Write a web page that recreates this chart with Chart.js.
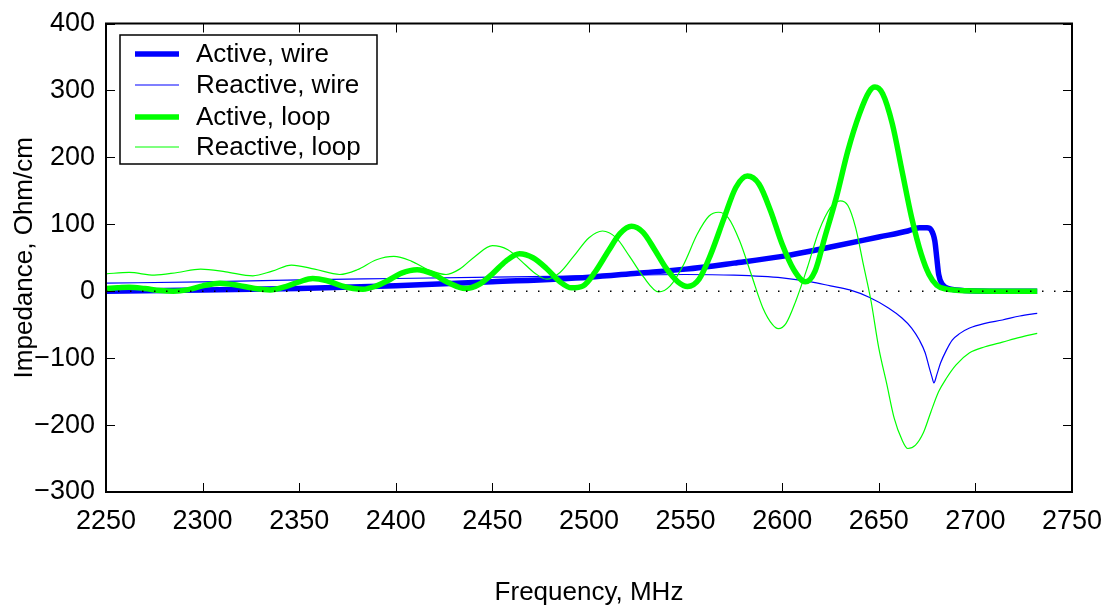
<!DOCTYPE html>
<html>
<head>
<meta charset="utf-8">
<script src="https://cdn.jsdelivr.net/npm/chart.js@4.4.0/dist/chart.umd.min.js"></script>
<style>
  html, body { margin: 0; padding: 0; background: #fff; }
</style>
</head>
<body>
<canvas id="impChart" width="1109" height="606"></canvas>
<script>
/* ===============================
   DATA
================================ */
const xTickValues = [2250, 2300, 2350, 2400, 2450, 2500, 2550, 2600, 2650, 2700, 2750];
const yTickValues = [-300, -200, -100, 0, 100, 200, 300, 400];

const seriesNames = ['Active, wire', 'Reactive, wire', 'Active, loop', 'Reactive, loop'];

const activeWireFreq = [2250, 2300, 2350, 2400, 2450, 2500, 2525, 2550, 2575, 2600, 2625, 2650, 2665, 2671, 2675, 2677, 2679, 2680, 2681, 2683, 2686, 2690, 2700, 2732];
const activeWireVals = [0, 2, 4, 8, 14, 21, 27, 33, 42, 52, 66, 81, 90, 95, 95, 92, 75, 50, 25, 10, 4, 2, 0.5, 0];

const reactiveWireFreq = [2250, 2300, 2350, 2400, 2450, 2500, 2550, 2575, 2600, 2615, 2625, 2635, 2645, 2655, 2662, 2667, 2671, 2674, 2676, 2677.5, 2678.5, 2680, 2682, 2685, 2688, 2692, 2697, 2705, 2714, 2723, 2732];
const reactiveWireVals = [12, 14, 17, 19, 21, 23, 25, 24, 20, 14, 8, 2, -9, -25, -40, -55, -73, -92, -113, -128, -137, -125, -107, -88, -73, -63, -55, -48, -43, -37, -33];

const activeLoopFreq = [2250, 2256, 2262, 2270, 2278, 2285, 2292, 2300, 2309, 2318, 2327, 2335, 2343, 2350, 2357, 2364, 2372, 2378, 2383, 2390, 2396, 2403, 2411, 2419, 2427, 2436, 2443, 2450, 2457, 2464, 2471, 2478, 2485, 2491, 2497, 2503, 2510, 2516, 2522, 2528, 2534, 2540, 2546, 2551, 2557, 2563, 2570, 2576, 2582, 2588, 2594, 2600, 2606, 2612, 2617, 2622, 2628, 2634, 2640, 2645, 2648, 2652, 2657, 2662, 2667, 2672, 2676, 2680, 2685, 2690, 2700, 2732];
const activeLoopVals = [4, 5, 6, 4, 1, 0, 2, 8, 12, 9, 4, 2, 7, 14, 19, 16, 8, 4, 3, 8, 16, 27, 32, 26, 13, 4, 10, 26, 45, 56, 50, 34, 14, 5, 8, 28, 60, 86, 97, 88, 62, 34, 14, 7, 18, 55, 110, 155, 172, 160, 120, 70, 32, 14, 30, 80, 140, 210, 265, 298, 305, 295, 250, 180, 110, 55, 25, 9, 3, 1.5, 0.5, 0];

const reactiveLoopFreq = [2250, 2262, 2275, 2287, 2299, 2312, 2326, 2336, 2346, 2358, 2371, 2380, 2390, 2399, 2408, 2417, 2426, 2433, 2441, 2450, 2458, 2465, 2472, 2478, 2485, 2492, 2500, 2507, 2514, 2521, 2528, 2536, 2542, 2549, 2556, 2562, 2567, 2572, 2578, 2584, 2590, 2595, 2598, 2602, 2607, 2613, 2619, 2625, 2630, 2634, 2638, 2642, 2646, 2650, 2654, 2658, 2662, 2665, 2669, 2673, 2677, 2681, 2685, 2690, 2697, 2705, 2714, 2723, 2732];
const reactiveLoopVals = [26, 28, 24, 28, 33, 29, 23, 30, 39, 33, 25, 32, 47, 52, 45, 32, 25, 33, 52, 68, 62, 45, 27, 18, 28, 52, 80, 90, 80, 52, 22, -1, 8, 40, 85, 112, 118, 110, 75, 25, -25, -50, -56, -48, -15, 35, 90, 125, 135, 128, 95, 40, -15, -85, -137, -190, -222, -235, -230, -212, -180, -150, -130, -110, -92, -83, -76, -69, -63];

const zeroLineFreq = [2250, 2750];
const zeroLineVals = [0, 0];

/* ===============================
   HELPERS
================================ */
const FONT = 'Liberation Sans, Arial, Helvetica, sans-serif';
const BLUE = '#0000ff';
const GREEN = '#00ff00';

function toPoints(freq, vals) {
  return freq.map((f, i) => ({ x: f, y: vals[i] }));
}

function minusSign(v) {
  return v < 0 ? '\u2212' + Math.abs(v) : String(v);
}

/* ===============================
   FRAME + INWARD TICKS + LEGEND
================================ */
const framePlugin = {
  id: 'frame',
  afterDraw(chart) {
    const { ctx, chartArea: a, scales } = chart;
    ctx.save();
    ctx.strokeStyle = '#000';
    ctx.lineWidth = 1;
    ctx.beginPath();
    xTickValues.forEach((v) => {
      const px = Math.round(scales.x.getPixelForValue(v)) + 0.5;
      ctx.moveTo(px, a.bottom); ctx.lineTo(px, a.bottom - 9);
      ctx.moveTo(px, a.top); ctx.lineTo(px, a.top + 9);
    });
    yTickValues.forEach((v) => {
      const py = Math.round(scales.y.getPixelForValue(v)) + 0.5;
      ctx.moveTo(a.left, py); ctx.lineTo(a.left + 9, py);
      ctx.moveTo(a.right, py); ctx.lineTo(a.right - 9, py);
    });
    ctx.stroke();
    ctx.lineWidth = 2;
    ctx.strokeRect(a.left, a.top, a.right - a.left, a.bottom - a.top);

    // legend box
    const lx = 120, ly = 35, lw = 257, lh = 129;
    ctx.fillStyle = '#fff';
    ctx.fillRect(lx, ly, lw, lh);
    ctx.lineWidth = 1.5;
    ctx.strokeRect(lx, ly, lw, lh);
    ctx.font = '26px ' + FONT;
    ctx.textBaseline = 'middle';
    ctx.textAlign = 'left';
    const rows = [54, 85, 117, 147];
    chart.data.datasets.slice(0, 4).forEach((ds, i) => {
      ctx.strokeStyle = ds.borderColor;
      ctx.lineWidth = ds.borderWidth;
      ctx.beginPath();
      ctx.moveTo(135, rows[i]);
      ctx.lineTo(179, rows[i]);
      ctx.stroke();
      ctx.fillStyle = '#000';
      ctx.fillText(ds.label, 196, rows[i] + 1);
    });
    ctx.restore();
  },
};

/* ===============================
   CHART
================================ */
const ctx = document.getElementById('impChart');

const impChart = new Chart(ctx, {
  type: 'line',
  data: {
    datasets: [
      {
        label: seriesNames[0],
        data: toPoints(activeWireFreq, activeWireVals),
        borderColor: BLUE,
        borderWidth: 5.5,
        order: 4,
      },
      {
        label: seriesNames[1],
        data: toPoints(reactiveWireFreq, reactiveWireVals),
        borderColor: BLUE,
        borderWidth: 1.2,
        order: 3,
      },
      {
        label: seriesNames[2],
        data: toPoints(activeLoopFreq, activeLoopVals),
        borderColor: GREEN,
        borderWidth: 5.5,
        order: 2,
      },
      {
        label: seriesNames[3],
        data: toPoints(reactiveLoopFreq, reactiveLoopVals),
        borderColor: GREEN,
        borderWidth: 1.2,
        order: 1,
      },
      {
        label: 'zero',
        data: toPoints(zeroLineFreq, zeroLineVals),
        borderColor: '#000',
        borderWidth: 1.5,
        borderDash: [1.5, 10.5],
        order: 0,
      },
    ],
  },
  options: {
    responsive: false,
    animation: false,
    devicePixelRatio: 1,
    elements: {
      point: { radius: 0 },
      line: { cubicInterpolationMode: 'monotone', fill: false, borderCapStyle: 'butt', borderJoinStyle: 'round' },
    },
    layout: { padding: { top: 23.5, right: 37, left: 0, bottom: 0 } },
    plugins: {
      legend: { display: false },
      tooltip: { enabled: false },
    },
    scales: {
      x: {
        type: 'linear',
        min: 2250,
        max: 2750,
        afterBuildTicks: (s) => { s.ticks = xTickValues.map((v) => ({ value: v })); },
        afterFit: (s) => {
          s.height = 114;
          s.paddingLeft = 0;
          s.paddingRight = 0;
        },
        grid: { display: false, drawTicks: false },
        border: { display: false },
        ticks: {
          color: '#000',
          font: { family: FONT, size: 27 },
          padding: 13,
          maxRotation: 0,
          autoSkip: false,
          callback: (v) => String(v),
        },
        title: {
          display: true,
          text: 'Frequency, MHz',
          color: '#000',
          font: { family: FONT, size: 26, lineHeight: 1 },
          padding: { top: 0, bottom: 0 },
        },
      },
      y: {
        type: 'linear',
        min: -300,
        max: 400,
        afterBuildTicks: (s) => { s.ticks = yTickValues.map((v) => ({ value: v })); },
        afterFit: (s) => {
          s.width = 106;
          s.paddingTop = 0;
          s.paddingBottom = 0;
        },
        grid: { display: false, drawTicks: false },
        border: { display: false },
        ticks: {
          color: '#000',
          font: { family: FONT, size: 27 },
          padding: 11,
          autoSkip: false,
          callback: (v) => minusSign(v),
        },
        title: {
          display: true,
          text: 'Impedance, Ohm/cm',
          color: '#000',
          font: { family: FONT, size: 26, lineHeight: 1 },
          padding: { top: 12, bottom: 0 },
        },
      },
    },
  },
  plugins: [framePlugin],
});
</script>
</body>
</html>
